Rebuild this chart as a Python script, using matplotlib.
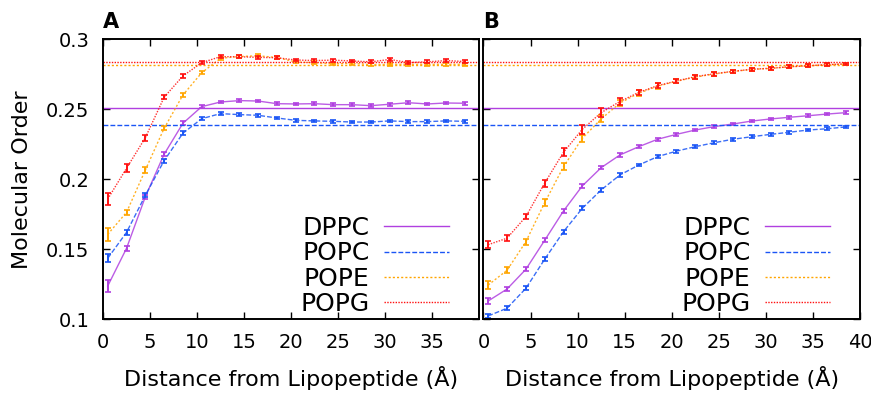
import matplotlib
matplotlib.use('Agg')
import matplotlib.pyplot as plt

# distance bins (Angstrom)
dist = [0.5, 2.5, 4.5, 6.5, 8.5, 10.5, 12.5, 14.5, 16.5, 18.5,
        20.5, 22.5, 24.5, 26.5, 28.5, 30.5, 32.5, 34.5, 36.5, 38.5]

lipids = ['DPPC', 'POPC', 'POPE', 'POPG']

# bulk reference order parameters
bulk = [0.2511, 0.2386, 0.2816, 0.2836]

# panel A
a_dppc = [0.1238, 0.1507, 0.1875, 0.2179, 0.2400, 0.2519, 0.2552, 0.2562, 0.2559, 0.2540,
          0.2538, 0.2540, 0.2533, 0.2533, 0.2526, 0.2536, 0.2547, 0.2538, 0.2545, 0.2543]
a_popc = [0.1436, 0.1621, 0.1885, 0.2133, 0.2329, 0.2433, 0.2469, 0.2462, 0.2457, 0.2438,
          0.2421, 0.2417, 0.2414, 0.2409, 0.2409, 0.2417, 0.2412, 0.2412, 0.2417, 0.2414]
a_pope = [0.1607, 0.1764, 0.2066, 0.2364, 0.2602, 0.2761, 0.2864, 0.2877, 0.2882, 0.2870,
          0.2838, 0.2833, 0.2824, 0.2828, 0.2819, 0.2821, 0.2821, 0.2821, 0.2821, 0.2821]
a_popg = [0.1859, 0.2079, 0.2297, 0.2586, 0.2738, 0.2833, 0.2876, 0.2875, 0.2871, 0.2868,
          0.2852, 0.2848, 0.2851, 0.2845, 0.2839, 0.2856, 0.2834, 0.2839, 0.2848, 0.2841]

a_dppc_err = [0.0040, 0.0020, 0.0015, 0.0015, 0.0015, 0.0010, 0.0010, 0.0010, 0.0010, 0.0010,
              0.0010, 0.0010, 0.0010, 0.0010, 0.0010, 0.0010, 0.0010, 0.0010, 0.0010, 0.0010]
a_popc_err = [0.0030, 0.0020, 0.0015, 0.0015, 0.0015, 0.0010, 0.0010, 0.0010, 0.0010, 0.0010,
              0.0010, 0.0010, 0.0010, 0.0010, 0.0010, 0.0010, 0.0010, 0.0010, 0.0010, 0.0010]
a_pope_err = [0.0045, 0.0020, 0.0020, 0.0015, 0.0015, 0.0010, 0.0010, 0.0010, 0.0010, 0.0010,
              0.0010, 0.0010, 0.0010, 0.0010, 0.0010, 0.0010, 0.0010, 0.0010, 0.0010, 0.0010]
a_popg_err = [0.0040, 0.0030, 0.0020, 0.0015, 0.0015, 0.0010, 0.0010, 0.0010, 0.0010, 0.0010,
              0.0010, 0.0010, 0.0010, 0.0010, 0.0010, 0.0010, 0.0010, 0.0010, 0.0010, 0.0010]

# panel B
b_dppc = [0.1131, 0.1216, 0.1357, 0.1564, 0.1774, 0.1953, 0.2083, 0.2174, 0.2233, 0.2286,
          0.2321, 0.2352, 0.2376, 0.2395, 0.2416, 0.2431, 0.2443, 0.2454, 0.2466, 0.2476]
b_popc = [0.1024, 0.1079, 0.1221, 0.1429, 0.1626, 0.1793, 0.1924, 0.2031, 0.2102, 0.2162,
          0.2201, 0.2233, 0.2261, 0.2286, 0.2304, 0.2321, 0.2336, 0.2352, 0.2361, 0.2374]
b_pope = [0.1245, 0.1350, 0.1554, 0.1833, 0.2090, 0.2293, 0.2431, 0.2545, 0.2615, 0.2665,
          0.2700, 0.2730, 0.2752, 0.2770, 0.2785, 0.2792, 0.2803, 0.2810, 0.2818, 0.2823]
b_popg = [0.1533, 0.1579, 0.1733, 0.1973, 0.2193, 0.2357, 0.2476, 0.2556, 0.2621, 0.2669,
          0.2702, 0.2733, 0.2754, 0.2771, 0.2786, 0.2793, 0.2804, 0.2811, 0.2819, 0.2824]

b_dppc_err = [0.0024, 0.0015, 0.0015, 0.0015, 0.0015, 0.0015, 0.0012, 0.0012, 0.0010, 0.0010,
              0.0010, 0.0010, 0.0010, 0.0010, 0.0010, 0.0010, 0.0010, 0.0010, 0.0010, 0.0010]
b_popc_err = [0.0014, 0.0015, 0.0015, 0.0015, 0.0015, 0.0015, 0.0012, 0.0012, 0.0010, 0.0010,
              0.0010, 0.0010, 0.0010, 0.0010, 0.0010, 0.0010, 0.0010, 0.0010, 0.0010, 0.0010]
b_pope_err = [0.0029, 0.0020, 0.0020, 0.0025, 0.0025, 0.0025, 0.0025, 0.0020, 0.0020, 0.0020,
              0.0015, 0.0015, 0.0015, 0.0010, 0.0010, 0.0010, 0.0010, 0.0010, 0.0010, 0.0010]
b_popg_err = [0.0026, 0.0020, 0.0020, 0.0025, 0.0030, 0.0030, 0.0030, 0.0025, 0.0020, 0.0020,
              0.0015, 0.0015, 0.0015, 0.0010, 0.0010, 0.0010, 0.0010, 0.0010, 0.0010, 0.0010]

colors = ['#b040e0', '#1a55f5', '#ffa500', '#ff1010']
styles = ['-', (0, (3.5, 1.5)), (0, (1.5, 1.5)), (0, (1, 1))]

fig = plt.figure(figsize=(8.71, 3.96), dpi=100)
ax_a = fig.add_axes([0.1183, 0.1937, 0.4316, 0.7071])
ax_b = fig.add_axes([0.5551, 0.1937, 0.4323, 0.7071])

panels = [
    (ax_a, [a_dppc, a_popc, a_pope, a_popg], [a_dppc_err, a_popc_err, a_pope_err, a_popg_err], 'A'),
    (ax_b, [b_dppc, b_popc, b_pope, b_popg], [b_dppc_err, b_popc_err, b_pope_err, b_popg_err], 'B'),
]

for ax, series, errs, letter in panels:
    handles = []
    for i in range(4):
        h = ax.axhline(bulk[i], color=colors[i], linestyle=styles[i], linewidth=1.0)
        handles.append(h)
        ax.plot(dist, series[i], color=colors[i], linestyle=styles[i], linewidth=1.0, alpha=0.85)
        ax.errorbar(dist, series[i], yerr=errs[i], fmt='none', ecolor=colors[i],
                    elinewidth=1.4, capsize=2.5, capthick=1.2)
    ax.set_ylim(0.1, 0.3)
    ax.set_yticks([0.1, 0.15, 0.2, 0.25, 0.3])
    ax.tick_params(direction='in', length=5, width=1, top=True, right=True,
                   labelsize=14, pad=10)
    for s in ax.spines.values():
        s.set_linewidth(1.4)
    ax.set_xlabel('Distance from Lipopeptide (Å)', fontsize=16, labelpad=10)
    ax.legend(handles, lipids, loc='lower right', bbox_to_anchor=(0.968, -0.05),
              frameon=False, markerfirst=False, fontsize=18, handlelength=2.6,
              labelspacing=0.05, handletextpad=0.6, borderaxespad=0.3)
    ax.text(0.0, 1.025, letter, transform=ax.transAxes, fontsize=15,
            fontweight='bold', ha='left', va='bottom')

ax_a.set_xlim(0, 40)
ax_a.set_xticks([0, 5, 10, 15, 20, 25, 30, 35])
ax_a.set_yticklabels(['0.1', '0.15', '0.2', '0.25', '0.3'])
ax_a.set_ylabel('Molecular Order', fontsize=16, labelpad=10)

ax_b.set_xlim(0, 40)
ax_b.set_xticks([0, 5, 10, 15, 20, 25, 30, 35, 40])
ax_b.set_yticklabels([])

fig.savefig('out.png', dpi=100)
